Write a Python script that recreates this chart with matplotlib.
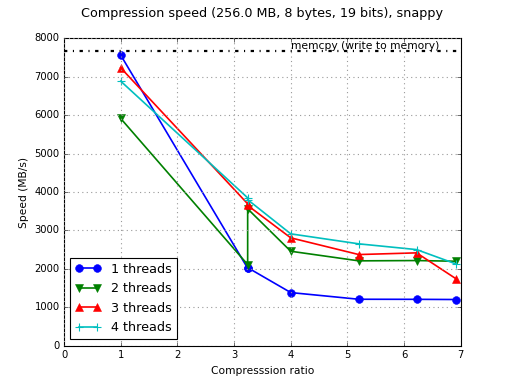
import matplotlib
matplotlib.use("Agg")
import matplotlib.pyplot as plt

plt.style.use('classic')

ratio = [1.0, 3.24, 3.24, 4.0, 5.2, 6.22, 6.91]
t1 = [7565, 2015, 2030, 1381, 1207, 1205, 1200]
t2 = [5915, 2110, 3562, 2457, 2207, 2215, 2197]
t3 = [7235, 3692, 3650, 2806, 2371, 2415, 1746]
t4 = [6887, 3848, 3800, 2910, 2650, 2500, 2129]
memcpy_speed = 7660
labels = ["1 threads", "2 threads", "3 threads", "4 threads"]

fig = plt.figure(figsize=(6.4, 4.8), dpi=80, facecolor='white')
ax = fig.add_subplot(111)
fig.subplots_adjust(left=0.125, right=0.9, bottom=0.1, top=0.9)

ax.plot(ratio, t1, 'b-o', lw=1.5, ms=7, mec='b', label=labels[0])
ax.plot(ratio, t2, 'g-v', lw=1.5, ms=7, mec='g', label=labels[1])
ax.plot(ratio, t3, 'r-^', lw=1.5, ms=7, mec='r', label=labels[2])
ax.plot(ratio, t4, 'c-+', lw=1.5, ms=7, mew=1, label=labels[3])
ax.axhline(memcpy_speed, color='k', ls='-.', lw=2)
ax.text(4.0, memcpy_speed + 20, "memcpy (write to memory)", fontsize=9.7, va='bottom')

ax.set_xlim(0, 7)
ax.set_ylim(0, 8000)
ax.grid(True, color='0.6', ls=':', lw=1)
ax.tick_params(labelsize=9)
ax.set_xlabel("Compresssion ratio", fontsize=9.6)
ax.set_ylabel("Speed (MB/s)", fontsize=9.6)
ax.set_title("Compression speed (256.0 MB, 8 bytes, 19 bits), snappy", fontsize=11.5, y=1.05)
leg = ax.legend(loc='lower left', fontsize=11.5, numpoints=2, fancybox=False)
leg.get_frame().set_edgecolor('k')

fig.savefig("out.png", dpi=80, facecolor='white')
